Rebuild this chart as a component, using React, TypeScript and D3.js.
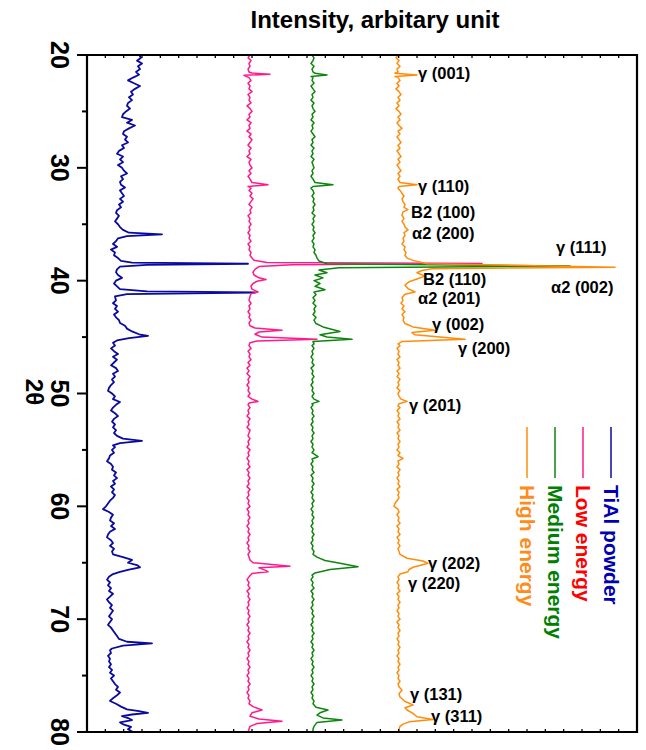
import React from "react";
import * as d3 from "d3";

// 2θ (deg) vs intensity (arbitrary units, shared scale incl. stacking offset)
const tiAlPowder: [number, number][] = [[20,52],[20.25,54],[20.5,50],[20.75,55],[21,51],[21.25,53],[21.5,49],[21.75,52],[22,46],[22.25,41],[22.5,47],[22.75,53],[23,48],[23.25,44],[23.5,46],[23.75,42],[24,45],[24.25,41],[24.5,40],[24.75,43],[25,39],[25.25,36],[25.5,35],[25.75,45],[26,40],[26.25,48],[26.5,42],[26.75,37],[27,36],[27.25,40],[27.5,38],[27.75,41],[28,35],[28.25,37],[28.5,32],[28.75,30],[29,36],[29.25,33],[29.5,36],[29.75,31],[30,35],[30.25,37],[30.5,40],[30.75,34],[31,36],[31.25,33],[31.5,34],[31.75,38],[32,33],[32.25,35],[32.5,37],[32.75,33],[33,36],[33.25,32],[33.5,34],[33.75,30],[34,29],[34.25,32],[34.5,30],[34.75,28],[35,31],[35.25,33],[35.5,36],[35.75,42],[35.9,75],[36.05,40],[36.25,31],[36.5,29],[36.75,26],[37,30],[37.25,24],[37.5,28],[37.75,27],[38,31],[38.25,34],[38.4,45],[38.5,161],[38.6,60],[38.75,33],[39,30],[39.25,29],[39.5,31],[39.75,35],[40,29],[40.25,27],[40.5,30],[40.75,33],[40.95,60],[41.05,168],[41.2,40],[41.4,28],[41.75,29],[42,26],[42.25,30],[42.5,28],[42.75,31],[43,27],[43.25,29],[43.5,32],[43.75,33],[44,38],[44.25,40],[44.5,45],[44.75,52],[44.9,61],[45.1,42],[45.3,30],[45.5,26],[45.75,28],[46,24],[46.25,27],[46.5,31],[46.75,26],[47,30],[47.25,27],[47.5,24],[47.75,29],[48,31],[48.25,26],[48.5,28],[48.75,25],[49,27],[49.25,24],[49.5,22],[49.75,21],[50,25],[50.25,28],[50.5,26],[50.75,33],[51,29],[51.25,26],[51.5,24],[51.75,28],[52,31],[52.25,27],[52.5,25],[52.75,28],[53,26],[53.25,29],[53.5,27],[53.75,30],[54,36],[54.2,55],[54.4,33],[54.6,26],[54.75,28],[55,25],[55.25,27],[55.5,23],[55.75,22],[56,20],[56.25,24],[56.5,26],[56.75,25],[57,29],[57.25,27],[57.5,30],[57.75,26],[58,28],[58.25,24],[58.5,27],[58.75,25],[59,28],[59.25,26],[59.5,23],[59.75,21],[60,19],[60.25,16],[60.5,22],[60.75,26],[61,24],[61.25,23],[61.5,27],[61.75,24],[62,28],[62.25,23],[62.5,21],[62.75,20],[63,24],[63.25,26],[63.5,23],[63.75,27],[64,25],[64.25,26],[64.5,36],[64.75,45],[65,41],[65.2,50],[65.4,53],[65.6,42],[65.8,33],[66,26],[66.25,22],[66.5,20],[66.75,23],[67,21],[67.25,24],[67.5,22],[67.75,26],[68,23],[68.25,20],[68.5,22],[68.75,25],[69,23],[69.25,26],[69.5,24],[69.75,22],[70,25],[70.25,23],[70.5,21],[70.75,24],[71,26],[71.25,28],[71.5,30],[71.75,32],[72,40],[72.15,65],[72.35,36],[72.6,25],[72.75,23],[73,24],[73.25,21],[73.5,23],[73.75,22],[74,24],[74.25,22],[74.5,25],[74.75,23],[75,27],[75.25,24],[75.5,26],[75.75,28],[76,31],[76.25,29],[76.5,33],[76.75,30],[77,26],[77.25,23],[77.5,29],[77.75,34],[78,40],[78.15,52],[78.3,61],[78.45,45],[78.6,35],[78.8,42],[78.95,45],[79.15,33],[79.35,37],[79.55,44],[79.75,41],[80,46]];

const lowEnergy: [number, number][] = [[20,163],[20.25,161],[20.5,164],[20.75,162],[21,163],[21.25,161],[21.5,162],[21.6,165],[21.7,183],[21.8,157],[22,162],[22.25,164],[22.5,161],[22.75,163],[23,162],[23.25,165],[23.5,161],[23.75,163],[24,162],[24.25,164],[24.5,160],[24.75,163],[25,165],[25.25,162],[25.5,163],[25.75,160],[26,164],[26.25,162],[26.5,163],[26.75,160],[27,164],[27.25,162],[27.5,165],[27.75,163],[28,161],[28.25,164],[28.5,162],[28.75,163],[29,160],[29.25,164],[29.5,162],[29.75,163],[30,165],[30.25,162],[30.5,164],[30.75,161],[31,163],[31.3,165],[31.5,181],[31.65,161],[31.8,164],[32,162],[32.25,165],[32.5,163],[32.75,166],[33,164],[33.25,162],[33.5,165],[33.75,163],[34,164],[34.25,161],[34.5,163],[34.75,162],[35,164],[35.25,162],[35.5,163],[35.75,161],[36,163],[36.25,162],[36.5,164],[36.75,161],[37,163],[37.25,162],[37.5,164],[37.75,163],[38,165],[38.2,167],[38.38,180],[38.48,395],[38.6,205],[38.75,172],[39,168],[39.25,166],[39.5,167],[39.75,172],[39.9,179],[40.05,170],[40.25,166],[40.5,164],[40.75,165],[41,171],[41.15,164],[41.4,163],[41.75,162],[42,164],[42.25,162],[42.5,163],[42.75,161],[43,163],[43.25,162],[43.5,164],[43.75,162],[44,163],[44.2,168],[44.4,195],[44.55,172],[44.75,168],[45,175],[45.2,230],[45.35,170],[45.5,163],[45.75,162],[46,164],[46.25,161],[46.5,163],[46.75,162],[47,164],[47.25,161],[47.5,163],[47.75,160],[48,162],[48.25,160],[48.5,163],[48.75,161],[49,162],[49.25,160],[49.5,162],[49.75,161],[50,163],[50.25,161],[50.5,165],[50.7,171],[50.85,162],[51,161],[51.25,163],[51.5,161],[51.75,162],[52,160],[52.25,163],[52.5,161],[52.75,162],[53,160],[53.25,163],[53.5,162],[53.75,161],[54,163],[54.25,161],[54.5,162],[54.75,160],[55,163],[55.25,161],[55.5,162],[55.75,160],[56,162],[56.25,161],[56.5,163],[56.75,160],[57,162],[57.25,161],[57.5,163],[57.75,161],[58,162],[58.25,160],[58.5,163],[58.75,161],[59,162],[59.25,160],[59.5,162],[59.75,161],[60,163],[60.25,160],[60.5,162],[60.75,161],[61,163],[61.25,161],[61.5,162],[61.75,160],[62,162],[62.25,161],[62.5,163],[62.75,161],[63,162],[63.25,160],[63.5,162],[63.75,161],[64,163],[64.25,161],[64.5,162],[64.75,163],[65,166],[65.15,185],[65.3,203],[65.45,172],[65.65,178],[65.8,181],[65.95,165],[66.25,162],[66.5,160],[66.75,162],[67,161],[67.25,163],[67.5,160],[67.75,162],[68,161],[68.25,163],[68.5,161],[68.75,162],[69,160],[69.25,162],[69.5,161],[69.75,163],[70,161],[70.25,162],[70.5,160],[70.75,162],[71,161],[71.25,163],[71.5,161],[71.75,162],[72,160],[72.25,162],[72.5,161],[72.75,163],[73,161],[73.25,162],[73.5,160],[73.75,162],[74,161],[74.25,163],[74.5,161],[74.75,162],[75,160],[75.25,162],[75.5,161],[75.75,163],[76,161],[76.25,162],[76.5,160],[76.75,162],[77,161],[77.25,163],[77.5,162],[77.75,166],[78.05,175],[78.3,165],[78.6,163],[78.85,172],[79.05,195],[79.25,170],[79.5,163],[79.75,162],[80,161]];

const mediumEnergy: [number, number][] = [[20,225],[20.25,227],[20.5,226],[20.75,224],[21,227],[21.25,225],[21.5,226],[21.62,228],[21.77,240],[21.9,224],[22,226],[22.25,225],[22.5,227],[22.75,224],[23,226],[23.25,228],[23.5,225],[23.75,226],[24,224],[24.25,227],[24.5,225],[24.75,226],[25,228],[25.25,225],[25.5,226],[25.75,224],[26,227],[26.25,225],[26.5,226],[26.75,224],[27,226],[27.25,228],[27.5,225],[27.75,226],[28,224],[28.25,227],[28.5,225],[28.75,226],[29,224],[29.25,227],[29.5,225],[29.75,226],[30,227],[30.25,225],[30.5,226],[30.75,224],[31,226],[31.3,228],[31.5,246],[31.65,226],[31.8,224],[32,226],[32.25,227],[32.5,225],[32.75,227],[33,226],[33.25,228],[33.5,226],[33.75,227],[34,225],[34.25,228],[34.5,226],[34.75,227],[35,225],[35.25,227],[35.5,226],[35.75,228],[36,226],[36.25,227],[36.5,225],[36.75,227],[37,226],[37.25,228],[37.5,227],[37.75,229],[38,230],[38.25,232],[38.5,240],[38.7,483],[38.85,252],[39.05,232],[39.3,240],[39.5,228],[39.75,236],[40,227],[40.25,233],[40.5,228],[40.8,238],[41,227],[41.25,229],[41.5,226],[41.75,228],[42,226],[42.25,229],[42.5,227],[42.75,228],[43,226],[43.25,229],[43.5,227],[43.8,229],[44.1,236],[44.5,253],[44.8,233],[45,240],[45.2,265],[45.4,226],[45.6,227],[45.75,225],[46,227],[46.25,225],[46.5,226],[46.75,224],[47,226],[47.25,225],[47.5,227],[47.75,224],[48,226],[48.25,225],[48.5,227],[48.75,225],[49,226],[49.25,224],[49.5,226],[49.75,225],[50,227],[50.25,225],[50.5,227],[50.7,232],[50.9,225],[51,226],[51.25,224],[51.5,226],[51.75,225],[52,227],[52.25,225],[52.5,226],[52.75,224],[53,226],[53.25,225],[53.5,227],[53.75,225],[54,226],[54.25,224],[54.5,226],[54.75,225],[55,227],[55.25,225],[55.6,231],[55.8,225],[56,226],[56.25,224],[56.5,226],[56.75,225],[57,227],[57.25,224],[57.5,226],[57.75,225],[58,227],[58.25,225],[58.5,226],[58.75,224],[59,226],[59.25,225],[59.5,227],[59.75,225],[60,226],[60.25,224],[60.5,226],[60.75,225],[61,227],[61.25,225],[61.5,226],[61.75,224],[62,226],[62.25,225],[62.5,227],[62.75,225],[63,226],[63.25,224],[63.5,226],[63.75,225],[64,227],[64.25,226],[64.5,230],[64.8,238],[65.05,253],[65.35,271],[65.6,243],[65.9,228],[66.1,225],[66.25,226],[66.5,224],[66.75,226],[67,225],[67.25,227],[67.5,224],[67.75,226],[68,225],[68.25,227],[68.5,225],[68.75,226],[69,224],[69.25,226],[69.5,225],[69.75,227],[70,225],[70.25,226],[70.5,224],[70.75,226],[71,225],[71.25,227],[71.5,225],[71.75,226],[72,224],[72.25,226],[72.5,225],[72.75,227],[73,225],[73.25,226],[73.5,224],[73.75,226],[74,225],[74.25,227],[74.5,225],[74.75,226],[75,224],[75.25,226],[75.5,225],[75.75,227],[76,225],[76.25,226],[76.5,224],[76.75,226],[77,225],[77.25,227],[77.5,226],[77.8,229],[78.05,241],[78.3,233],[78.5,230],[78.75,236],[78.93,255],[79.15,230],[79.5,227],[79.75,226],[80,226]];

const highEnergy: [number, number][] = [[20,311],[20.25,309],[20.5,312],[20.75,310],[21,313],[21.25,310],[21.5,311],[21.62,308],[21.77,330],[21.9,308],[22,311],[22.25,313],[22.5,310],[22.75,312],[23,309],[23.25,312],[23.5,314],[23.75,311],[24,313],[24.25,310],[24.5,312],[24.75,309],[25,312],[25.25,314],[25.5,311],[25.75,313],[26,310],[26.25,312],[26.5,315],[26.75,311],[27,313],[27.25,310],[27.5,312],[27.75,314],[28,311],[28.25,313],[28.5,310],[28.75,312],[29,314],[29.25,311],[29.5,313],[29.75,310],[30,312],[30.25,314],[30.5,311],[30.75,313],[31,311],[31.3,313],[31.5,330],[31.65,312],[31.8,311],[32,313],[32.25,315],[32.5,317],[32.75,315],[33,316],[33.25,318],[33.5,317],[33.7,321],[33.9,316],[34.2,315],[34.5,317],[34.75,315],[35,317],[35.25,318],[35.5,321],[35.75,317],[36,318],[36.25,316],[36.5,317],[36.75,315],[37,318],[37.25,317],[37.5,319],[37.75,318],[38,320],[38.2,326],[38.5,340],[38.8,528],[38.95,345],[39.1,335],[39.3,330],[39.6,338],[39.85,330],[40.1,322],[40.4,318],[40.7,321],[41,328],[41.2,318],[41.5,315],[41.75,316],[42,314],[42.25,317],[42.5,315],[42.75,318],[43,315],[43.25,317],[43.5,316],[43.8,318],[44.1,326],[44.4,348],[44.6,325],[44.8,328],[45.2,378],[45.4,315],[45.6,311],[45.75,313],[46,310],[46.25,312],[46.5,311],[46.75,313],[47,310],[47.25,312],[47.5,311],[47.75,313],[48,310],[48.25,312],[48.5,310],[48.75,313],[49,311],[49.25,312],[49.5,310],[49.75,313],[50,311],[50.25,312],[50.5,314],[50.7,320],[50.9,312],[51.1,311],[51.25,313],[51.5,310],[51.75,312],[52,311],[52.25,313],[52.5,310],[52.75,312],[53,311],[53.25,313],[53.5,310],[53.75,312],[54,311],[54.25,313],[54.5,311],[54.75,312],[55,310],[55.25,313],[55.5,311],[55.75,316],[56,311],[56.25,312],[56.5,310],[56.75,313],[57,311],[57.25,312],[57.5,310],[57.75,312],[58,311],[58.25,313],[58.5,310],[58.75,312],[59,311],[59.25,312],[59.5,310],[59.75,308],[60,307],[60.25,311],[60.5,312],[60.75,310],[61,312],[61.25,311],[61.5,313],[61.75,310],[62,312],[62.25,311],[62.5,313],[62.75,310],[63,312],[63.25,311],[63.5,313],[63.75,311],[64,312],[64.25,313],[64.6,320],[64.85,336],[65.05,341],[65.4,326],[65.6,322],[65.8,321],[66,313],[66.25,311],[66.5,312],[66.75,310],[67,312],[67.25,311],[67.5,313],[67.75,310],[68,312],[68.25,311],[68.5,313],[68.75,311],[69,312],[69.25,310],[69.5,312],[69.75,311],[70,313],[70.25,310],[70.5,312],[70.75,311],[71,313],[71.25,311],[71.5,312],[71.75,310],[72,312],[72.25,311],[72.5,313],[72.75,311],[73,312],[73.25,310],[73.5,312],[73.75,311],[74,313],[74.25,311],[74.5,312],[74.75,310],[75,312],[75.25,311],[75.5,313],[75.75,311],[76,312],[76.3,315],[76.6,312],[76.9,313],[77.3,318],[77.6,326],[77.85,318],[78.05,320],[78.35,326],[78.65,330],[78.9,346],[79.1,322],[79.3,316],[79.5,313],[79.75,312],[80,312]];

const seriesNames = ["TiAl powder", "Low energy", "Medium energy", "High energy"];
const seriesData = [tiAlPowder, lowEnergy, mediumEnergy, highEnergy];
const lineColors = ["#0a0aa0", "#ff1a8c", "#0e850e", "#ff8c0a"];
const lineWidths = [1.8, 1.5, 1.5, 1.5];
const legendTextColors = ["#0000b4", "#ff0000", "#008000", "#ff8c1a"];

const twoThetaTicks = [20, 30, 40, 50, 60, 70, 80];
const twoThetaMinor = [25, 35, 45, 55, 65, 75];

const peakLabels = [
  { text: "γ (001)", t: 21.6, v: 331 },
  { text: "γ (110)", t: 31.65, v: 331 },
  { text: "B2 (100)", t: 33.9, v: 324 },
  { text: "α2 (200)", t: 35.75, v: 325 },
  { text: "γ (111)", t: 37.0, v: 469 },
  { text: "B2 (110)", t: 39.85, v: 336 },
  { text: "α2 (002)", t: 40.55, v: 464 },
  { text: "α2 (201)", t: 41.55, v: 331 },
  { text: "γ (002)", t: 43.85, v: 345 },
  { text: "γ (200)", t: 45.95, v: 371 },
  { text: "γ (201)", t: 51.0, v: 322 },
  { text: "γ (202)", t: 65.0, v: 341 },
  { text: "γ (220)", t: 66.8, v: 321 },
  { text: "γ (131)", t: 76.65, v: 323 },
  { text: "γ (311)", t: 78.55, v: 344 },
];

const W = 646, H = 750;
const left = 87, right = 637, top = 55, bottom = 732;
const FONT = "'Liberation Sans', Arial, Helvetica, sans-serif";

export default function App() {
  const x = d3.scaleLinear().domain([0, 550]).range([left, right]);
  const y = d3.scaleLinear().domain([20, 80]).range([top, bottom]);
  const line = d3.line<[number, number]>().x(d => x(d[1])).y(d => y(d[0]));
  const intensityTicks = d3.range(0, 31).map(i => (i * 550) / 30);

  return (
    <svg width={W} height={H} style={{ position: "absolute", left: 0, top: 0, background: "#fff" }} fontFamily={FONT}>
      <rect width={W} height={H} fill="#fff" />
      {/* title */}
      <text x={375} y={19} textAnchor="middle" dominantBaseline="central" fontSize={24} fontWeight="bold" fill="#000">
        Intensity, arbitary unit
      </text>

      {/* traces */}
      {seriesData.map((s, i) => (
        <path key={i} d={line(s) || ""} fill="none" stroke={lineColors[i]} strokeWidth={lineWidths[i]} strokeLinejoin="round" />
      ))}

      {/* frame */}
      <line x1={left} x2={right} y1={top} y2={top} stroke="#000" strokeWidth={2.2} />
      <line x1={left} x2={right} y1={bottom} y2={bottom} stroke="#000" strokeWidth={2.2} />
      <line x1={right} x2={right} y1={top - 1} y2={bottom + 1} stroke="#000" strokeWidth={2.2} />
      <line x1={left} x2={left} y1={top - 1} y2={bottom + 1} stroke="#000" strokeWidth={2.2} />

      {intensityTicks.map((v, i) => (
        <g key={i}>
          <line x1={x(v)} x2={x(v)} y1={top} y2={top + 3} stroke="#000" strokeWidth={1.3} />
          <line x1={x(v)} x2={x(v)} y1={bottom} y2={bottom - 3} stroke="#000" strokeWidth={1.3} />
        </g>
      ))}

      {twoThetaTicks.map(t => (
        <g key={t}>
          <line x1={left - 10} x2={left} y1={y(t)} y2={y(t)} stroke="#000" strokeWidth={2} />
          <text x={60} y={y(t)} transform={`rotate(90, 60, ${y(t)})`} textAnchor="middle" dominantBaseline="central" fontSize={25} fontWeight="bold" fill="#000">
            {t}
          </text>
        </g>
      ))}
      {twoThetaMinor.map(t => (
        <line key={t} x1={left - 5} x2={left} y1={y(t)} y2={y(t)} stroke="#000" strokeWidth={2} />
      ))}

      <text x={34} y={392} transform={`rotate(90, 34, 392)`} textAnchor="middle" dominantBaseline="central" fontSize={24} fontWeight="bold" fill="#000">
        2θ
      </text>

      {/* peak labels */}
      {peakLabels.map((p, i) => (
        <text key={i} x={x(p.v)} y={y(p.t)} dominantBaseline="central" fontSize={16.5} fontWeight="bold" fill="#000">
          {p.text}
        </text>
      ))}

      {/* legend */}
      {seriesNames.map((name, i) => {
        const lx = 611 - i * 28;
        return (
          <g key={name}>
            <line x1={lx} x2={lx} y1={427} y2={478} stroke={lineColors[i]} strokeWidth={1.5} />
            <text x={lx} y={485} transform={`rotate(90, ${lx}, 485)`} textAnchor="start" dominantBaseline="central" fontSize={21} fontWeight="bold" fill={legendTextColors[i]}>
              {name}
            </text>
          </g>
        );
      })}
    </svg>
  );
}
